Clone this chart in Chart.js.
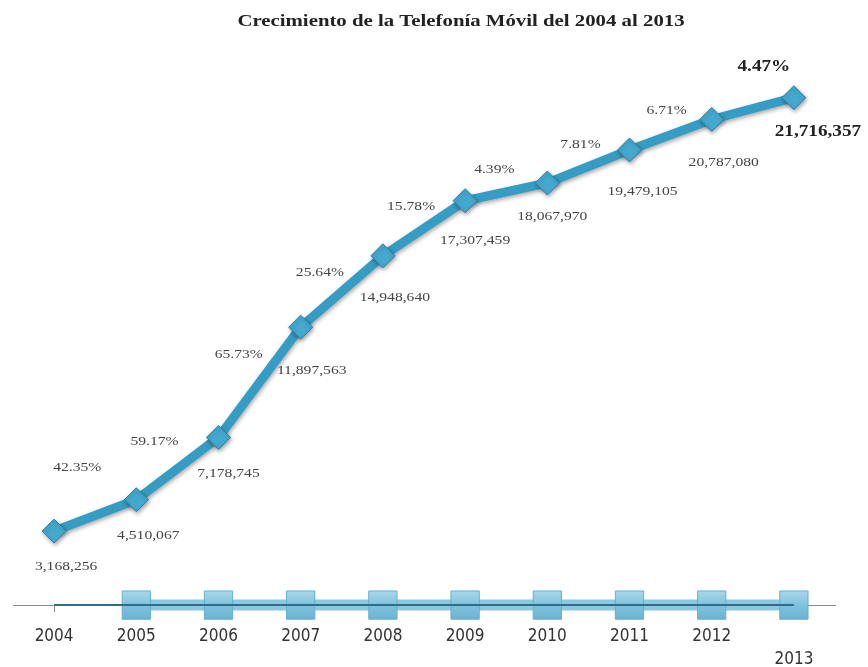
<!DOCTYPE html>
<html>
<head>
<meta charset="utf-8">
<script src="https://cdn.jsdelivr.net/npm/chart.js@4.4.0/dist/chart.umd.min.js"></script>
<style>
  html, body { margin: 0; padding: 0; background: #fff; overflow: hidden; }
  #wrap { width: 876px; height: 686px; margin-left: -8px; }
</style>
</head>
<body>
<div id="wrap"><canvas id="chart"></canvas></div>
<script>
// data
const TITLE = "Crecimiento de la Telefonía Móvil del 2004 al 2013";
const YEARS = ['2004','2005','2006','2007','2008','2009','2010','2011','2012','2013'];
const SUBSCRIBERS = [3168256, 4510067, 7178745, 11897563, 14948640, 17307459, 18067970, 19479105, 20787080, 21716357];
const GROWTH = [null, 42.35, 59.17, 65.73, 25.64, 15.78, 4.39, 7.81, 6.71, 4.47];
// the flat row of squares sitting on the axis
const BASE_ROW = [null, 0, 0, 0, 0, 0, 0, 0, 0, 0];
const BASE_LINE = [0, 0, 0, 0, 0, 0, 0, 0, 0, 0];

const Y_MAX = 25000000;

// label placement around each point (dx, dy)
const PCT_OFFSETS = [[0,0],[-59,-32],[-64,4],[-62,27],[-63,17],[-54,6],[-53,-13],[-49,-5],[-45,-9],[-30,-31]];
const VAL_OFFSETS = [[12,36],[12,36],[10,36],[11,43],[12,42],[10,40],[5,34],[13,42],[12,43],[24,34]];

const fmt = n => n.toLocaleString('en-US');

// the reference text is drawn a bit wide, so stretch it sideways
function wideText(ctx, text, x, y, sx) {
  ctx.save();
  ctx.translate(x, y);
  ctx.scale(sx, 1);
  ctx.fillText(text, 0, 0);
  ctx.restore();
}

function squareFill(c) {
  const area = c.chart.chartArea;
  if (!area) return '#84c5de';
  const g = c.chart.ctx.createLinearGradient(0, area.bottom - 14, 0, area.bottom + 14);
  g.addColorStop(0, '#a8d8ea');
  g.addColorStop(0.5, '#7fc2dc');
  g.addColorStop(1, '#6bb4d2');
  return g;
}

const lineShadow = {
  id: 'lineShadow',
  beforeDatasetDraw(chart, args) {
    if (args.index !== 0) return;
    const ctx = chart.ctx;
    ctx.save();
    ctx.shadowColor = 'rgba(0,0,0,0.35)';
    ctx.shadowBlur = 4;
    ctx.shadowOffsetX = 1;
    ctx.shadowOffsetY = 2;
  },
  afterDatasetDraw(chart, args) {
    if (args.index !== 0) return;
    chart.ctx.restore();
  }
};

const pointLabels = {
  id: 'pointLabels',
  afterDatasetsDraw(chart) {
    const ctx = chart.ctx;
    const meta = chart.getDatasetMeta(0);
    ctx.save();
    ctx.textAlign = 'center';
    ctx.textBaseline = 'middle';
    meta.data.forEach((pt, i) => {
      const last = i === meta.data.length - 1;
      ctx.font = last ? 'bold 16px "Liberation Serif"' : '13px "Liberation Serif"';
      ctx.fillStyle = last ? '#222' : '#444';
      if (GROWTH[i] != null) {
        const o = PCT_OFFSETS[i];
        wideText(ctx, GROWTH[i].toFixed(2) + '%', pt.x + o[0], pt.y + o[1], 1.2);
      }
      const v = VAL_OFFSETS[i];
      wideText(ctx, fmt(SUBSCRIBERS[i]), pt.x + v[0], pt.y + v[1], 1.2);
    });

    // title
    ctx.font = 'bold 16px "Liberation Serif"';
    ctx.fillStyle = '#222';
    wideText(ctx, TITLE, 469, 22, 1.3);
    ctx.restore();
  }
};

new Chart(document.getElementById('chart'), {
  type: 'line',
  data: {
    labels: YEARS,
    datasets: [
      {
        label: 'Suscriptores',
        data: SUBSCRIBERS,
        borderColor: '#359dc4',
        borderWidth: 9,
        pointStyle: 'rectRot',
        pointRadius: 12,
        pointBackgroundColor: '#45a9cf',
        pointBorderColor: '#2a82a6',
        pointBorderWidth: 1,
        tension: 0
      },
      {
        label: 'eje',
        data: BASE_LINE,
        borderColor: '#2f6d88',
        borderWidth: 2,
        pointRadius: 0,
        clip: false
      },
      {
        label: 'Años',
        data: BASE_ROW,
        borderColor: 'rgba(120,190,218,0.85)',
        borderWidth: 11,
        pointStyle: 'rect',
        pointRadius: 20,
        pointBackgroundColor: squareFill,
        pointBorderColor: '#66b0cd',
        pointBorderWidth: 1,
        clip: false
      }
    ]
  },
  options: {
    responsive: true,
    maintainAspectRatio: false,
    animation: false,
    layout: { padding: { left: 0, right: 33, top: 20, bottom: 2 } },
    plugins: {
      legend: { display: false },
      tooltip: { enabled: false }
    },
    scales: {
      x: {
        offset: true,
        border: { display: true, color: '#8c8c8c', width: 1 },
        grid: {
          drawOnChartArea: false,
          drawTicks: true,
          tickLength: 7,
          color: c => (c.index === 0 || c.index === 1 || c.index >= YEARS.length) ? '#8c8c8c' : 'rgba(0,0,0,0)'
        },
        ticks: {
          padding: 13,
          color: '#333',
          font: { family: '"Liberation Sans Narrow", "DejaVu Sans Condensed", sans-serif', size: 17, lineHeight: 1.35 },
          callback: function (val, i) {
            const lbl = this.getLabelForValue(val);
            return i === YEARS.length - 1 ? ['', lbl] : lbl;
          }
        }
      },
      y: {
        display: false,
        min: 0,
        max: Y_MAX
      }
    }
  },
  plugins: [lineShadow, pointLabels]
});
</script>
</body>
</html>
